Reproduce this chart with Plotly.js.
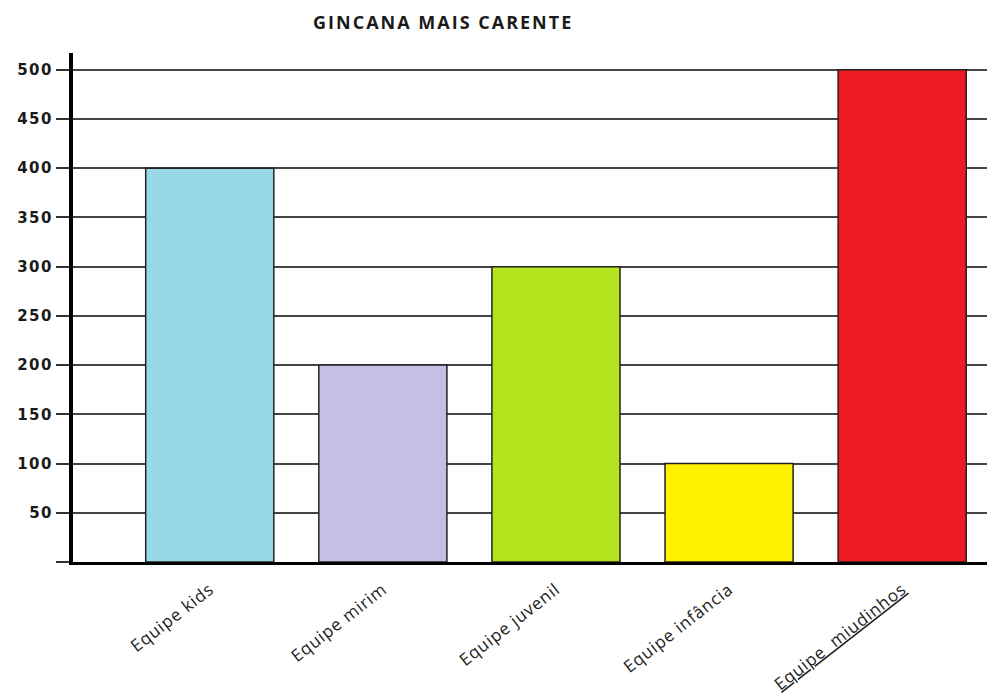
<!DOCTYPE html>
<html>
<head>
<meta charset="utf-8">
<script src="https://cdn.plot.ly/plotly-3.0.1.min.js"></script>
<style>html,body{margin:0;padding:0;background:#fff;}#chart{width:987px;height:698px;}</style>
</head>
<body>
<div id="chart"></div>
<script>
const categories = ['Equipe kids', 'Equipe mirim', 'Equipe juvenil', 'Equipe infância', 'Equipe  miudinhos'];
const values = [400, 200, 300, 100, 500];
const barColors = ['#99d8e8', '#c5bfe6', '#b5e41f', '#fff200', '#ed1c24'];
const yTickVals = [0, 50, 100, 150, 200, 250, 300, 350, 400, 450, 500];
const yTickText = ['', '50', '100', '150', '200', '250', '300', '350', '400', '450', '500'];

const wide = (t, sp) => '<span style="letter-spacing:' + sp + 'px">' + t + '</span>';
const tickLabels = categories.map((c, i) => i === categories.length - 1
  ? '<span style="letter-spacing:0.8px;text-decoration:underline">' + c + '</span>'
  : wide(c, 0.8));

const trace = {
  type: 'bar',
  x: categories.map((c, i) => i),
  y: values,
  width: 0.74,
  marker: { color: barColors, line: { color: '#222', width: 1.5 } },
  hoverinfo: 'skip'
};

const layout = {
  width: 987, height: 698,
  margin: { l: 73, r: 0, t: 53, b: 136 },
  paper_bgcolor: '#fff', plot_bgcolor: '#fff',
  showlegend: false,
  title: {
    text: '<b>' + wide('GINCANA MAIS CARENTE', 2) + '</b>',
    font: { family: 'Open Sans', size: 18, color: '#1a1a1a', weight: 800 },
    x: 0.449, xanchor: 'center', xref: 'container',
    y: 0.968, yanchor: 'middle', yref: 'container'
  },
  xaxis: {
    range: [-0.79, 4.49],
    tickvals: [0, 1, 2, 3, 4],
    ticktext: tickLabels,
    tickangle: -38,
    ticks: '',
    ticklabelstandoff: 8,
    tickfont: { family: 'Open Sans', size: 17, color: '#222' },
    showgrid: false,
    zeroline: false,
    automargin: false,
    showline: true, linecolor: '#000', linewidth: 3,
    fixedrange: true
  },
  yaxis: {
    range: [0, 517],
    tickvals: yTickVals,
    ticktext: yTickText.map(t => wide(t, 1.5)),
    ticks: 'outside', ticklen: 13, tickwidth: 2, tickcolor: '#333',
    tickfont: { family: 'DejaVu Sans', size: 15, color: '#1a1a1a', weight: 'bold' },
    showgrid: true, gridcolor: '#444', gridwidth: 2,
    zeroline: false,
    automargin: false,
    showline: true, linecolor: '#000', linewidth: 4,
    fixedrange: true
  }
};

Plotly.newPlot('chart', [trace], layout, { displayModeBar: false, staticPlot: true });
</script>
</body>
</html>
